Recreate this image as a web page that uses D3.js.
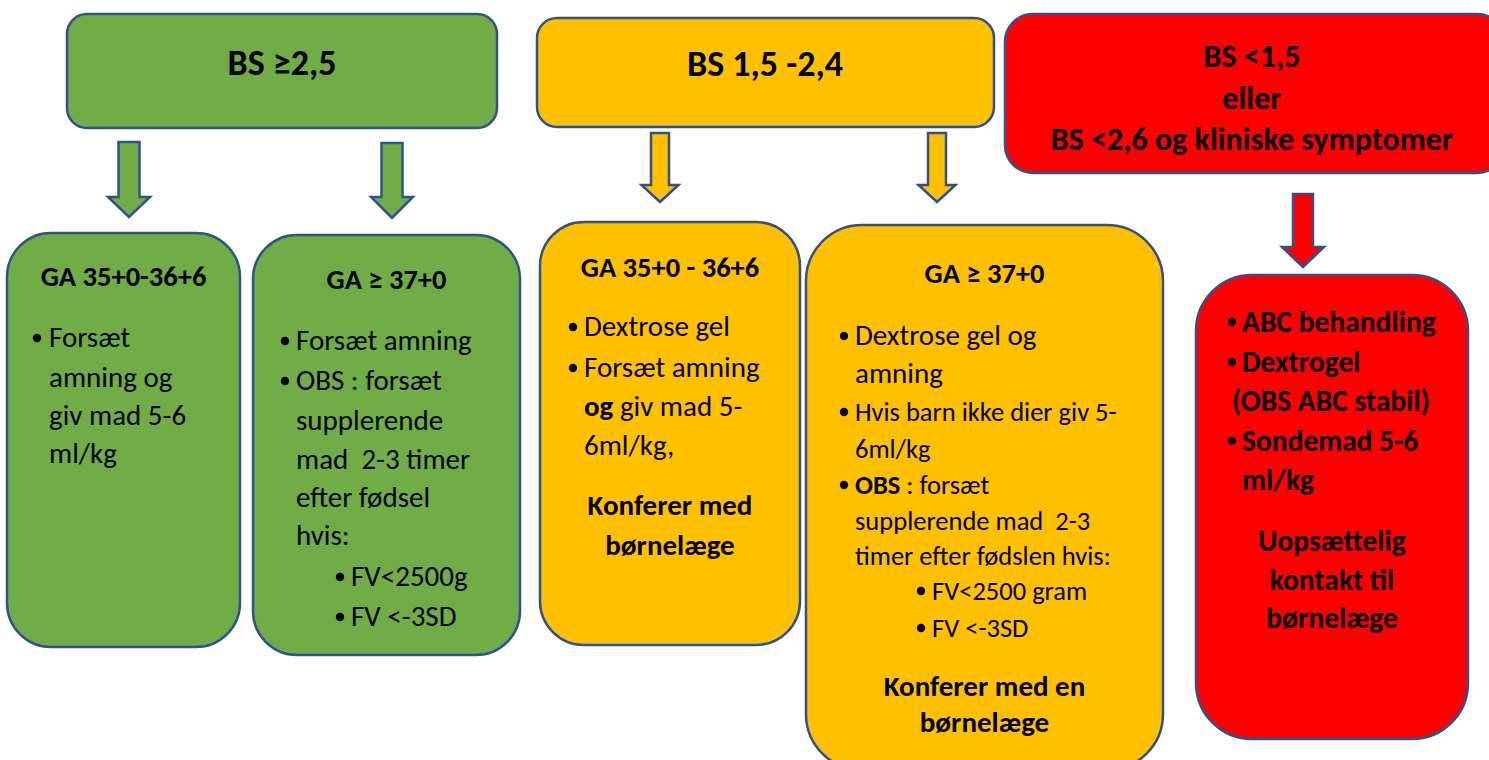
<!DOCTYPE html>
<html>
<head>
<meta charset="utf-8">
<title>Blodsukker flowchart</title>
<script src="https://d3js.org/d3.v7.min.js"></script>
<style>
 body { margin: 0; background: #fff; }
 svg { display: block; }
 text { font-family: Carlito, Calibri, Lato, "Open Sans", sans-serif; fill: #000; }
 .box { stroke: #2F528F; stroke-width: 2.5px; }
 .arrow { stroke: #2F528F; stroke-width: 2.5px; stroke-linejoin: miter; }
</style>
</head>
<body>
<script>
 var width = 1489;
 var height = 760;

 // level colours
 var fills = ["#70AD47", "#FFC000", "#FF0000"];

 // top boxes: BS intervals
 var levels = [["BS ≥2,5"], ["BS 1,5 -2,4"], ["BS <1,5", "eller", "BS <2,6 og kliniske symptomer"]];

 // lower boxes, lines as [kind, text]; "**" marks bold parts
 // kinds: h heading, b bullet, c continuation, q continuation at bullet, s sub bullet, m bold centred note
 var green1 = [["h", "GA 35+0-36+6"], ["b", "Forsæt"], ["c", "amning og"], ["c", "giv mad 5-6"], ["c", "ml/kg"]];
 var green2 = [["h", "GA ≥ 37+0"], ["b", "Forsæt amning"], ["b", "OBS : forsæt"], ["c", "supplerende"],
               ["c", "mad  2-3 timer"], ["c", "efter fødsel"], ["c", "hvis:"], ["s", "FV<2500g"], ["s", "FV <-3SD"]];
 var yellow1 = [["h", "GA 35+0 - 36+6"], ["b", "Dextrose gel"], ["b", "Forsæt amning"], ["c", "**og** giv mad 5-"],
                ["c", "6ml/kg,"], ["m", "Konferer med"], ["m", "børnelæge"]];
 var yellow2 = [["h", "GA ≥ 37+0"], ["b", "Dextrose gel og"], ["c", "amning"], ["b", "Hvis barn ikke dier giv 5-"],
                ["c", "6ml/kg"], ["b", "**OBS** : forsæt"], ["c", "supplerende mad  2-3"], ["c", "timer efter fødslen hvis:"],
                ["s", "FV<2500 gram"], ["s", "FV <-3SD"], ["m", "Konferer med en"], ["m", "børnelæge"]];
 var red1 = [["b", "**ABC behandling**"], ["b", "**Dextrogel**"], ["q", "**(OBS ABC stabil)**"], ["b", "**Sondemad 5-6**"],
             ["c", "**ml/kg**"], ["m", "Uopsættelig"], ["m", "kontakt til"], ["m", "børnelæge"]];

 // ---- layout ----
 var topLayout = [
   {x: 67, y: 14, w: 430, h: 114, r: 20, cx: 282, size: 36, ys: [62]},
   {x: 537, y: 18, w: 457, h: 109, r: 20, cx: 765, size: 36, ys: [63]},
   {x: 1005, y: 14, w: 500, h: 159, r: 28, cx: 1252, size: 32, ys: [55, 97, 138]}
 ];
 var boxLayout = [
   {lines: green1, lvl: 0, x: 7, y: 233, w: 233, h: 414, r: 44, bx: 37, tx: 49, sbx: 0, stx: 0, size: 29,
    ys: [276, 337, 377, 415, 453]},
   {lines: green2, lvl: 0, x: 253, y: 235, w: 267, h: 420, r: 44, bx: 285, tx: 296, sbx: 340, stx: 351, size: 29,
    ys: [279, 340, 380, 420, 459, 497, 535, 576, 616]},
   {lines: yellow1, lvl: 1, x: 540, y: 222, w: 260, h: 423, r: 44, bx: 573, tx: 584, sbx: 0, stx: 0, size: 29,
    ys: [267, 326, 367, 406, 445, 505, 545]},
   {lines: yellow2, lvl: 1, x: 806, y: 225, w: 357, h: 545, r: 56, bx: 844, tx: 855, sbx: 921, stx: 932, size: 29,
    small: 26.5, smallFrom: 3, smallTo: 9,
    ys: [273, 335, 373, 411, 448, 484, 520, 555, 590, 627, 686, 722]},
   {lines: red1, lvl: 2, x: 1196, y: 275, w: 272, h: 464, r: 56, bx: 1232, tx: 1242, sbx: 0, stx: 0, size: 29.5,
    ys: [321, 361, 400, 440, 479, 540, 579, 617]}
 ];
 // arrows: centre x, top, head start, tip, shaft width, head width
 var arrowLayout = [
   {lvl: 0, cx: 129, y0: 142, y1: 197, y2: 217, sw: 21, hw: 42},
   {lvl: 0, cx: 392, y0: 143, y1: 197, y2: 218, sw: 21, hw: 42},
   {lvl: 1, cx: 660, y0: 133, y1: 185, y2: 202, sw: 18, hw: 37},
   {lvl: 1, cx: 937, y0: 133, y1: 185, y2: 202, sw: 18, hw: 37},
   {lvl: 2, cx: 1303, y0: 194, y1: 247, y2: 267, sw: 20, hw: 42}
 ];
 var headSize = 28.5;

 var svg = d3.select('body').append('svg')
   .attr('width', width).attr('height', height);

 // top boxes
 var tops = svg.selectAll('.top').data(topLayout).enter().append('g').attr('class', 'top');
 tops.append('rect').attr('class', 'box')
   .attr('x', d => d.x).attr('y', d => d.y).attr('width', d => d.w).attr('height', d => d.h)
   .attr('rx', d => d.r).attr('fill', (d, i) => fills[i]);
 tops.each(function (d, i) {
   d3.select(this).selectAll('text').data(levels[i]).enter().append('text')
     .attr('x', d.cx).attr('y', (t, j) => d.ys[j] + d.size * 0.36)
     .attr('text-anchor', 'middle').attr('font-weight', 'bold').attr('font-size', d.size)
     .text(t => t);
 });

 // arrows
 svg.selectAll('.arrow').data(arrowLayout).enter().append('polygon')
   .attr('class', 'arrow')
   .attr('fill', d => fills[d.lvl])
   .attr('points', function (d) {
     var s = d.sw / 2, h = d.hw / 2;
     return [[d.cx - s, d.y0], [d.cx + s, d.y0], [d.cx + s, d.y1], [d.cx + h, d.y1], [d.cx, d.y2],
             [d.cx - h, d.y1], [d.cx - s, d.y1]].join(' ');
   });

 // lower boxes
 var boxes = svg.selectAll('.lower').data(boxLayout).enter().append('g').attr('class', 'lower');
 boxes.append('rect').attr('class', 'box')
   .attr('x', d => d.x).attr('y', d => d.y).attr('width', d => d.w).attr('height', d => d.h)
   .attr('rx', d => d.r).attr('fill', d => fills[d.lvl]);

 boxes.each(function (d) {
   var g = d3.select(this);
   var cx = d.x + d.w / 2;
   d.lines.forEach(function (ln, j) {
     var kind = ln[0];
     var fs = kind == 'h' ? headSize : d.size;
     if (d.small && j >= d.smallFrom && j <= d.smallTo) fs = d.small;
     var y = d.ys[j] + fs * 0.36;
     var x = cx, anchor = 'middle';
     if (kind == 'b' || kind == 'c') { x = d.tx; anchor = 'start'; }
     if (kind == 'q') { x = d.bx; anchor = 'start'; }
     if (kind == 's') { x = d.stx; anchor = 'start'; }
     if (kind == 'b' || kind == 's') {
       g.append('circle').attr('cx', kind == 'b' ? d.bx : d.sbx).attr('cy', d.ys[j] + 1)
         .attr('r', 4.2).attr('fill', '#000');
     }
     var t = g.append('text').attr('x', x).attr('y', y).attr('text-anchor', anchor).attr('font-size', fs);
     var bold = kind == 'h' || kind == 'm';
     ln[1].split('**').forEach(function (part, k) {
       if (!part) return;
       t.append('tspan').attr('font-weight', (bold || k % 2 == 1) ? 'bold' : 'normal')
         .style('white-space', 'pre').text(part);
     });
   });
 });
</script>
</body>
</html>
